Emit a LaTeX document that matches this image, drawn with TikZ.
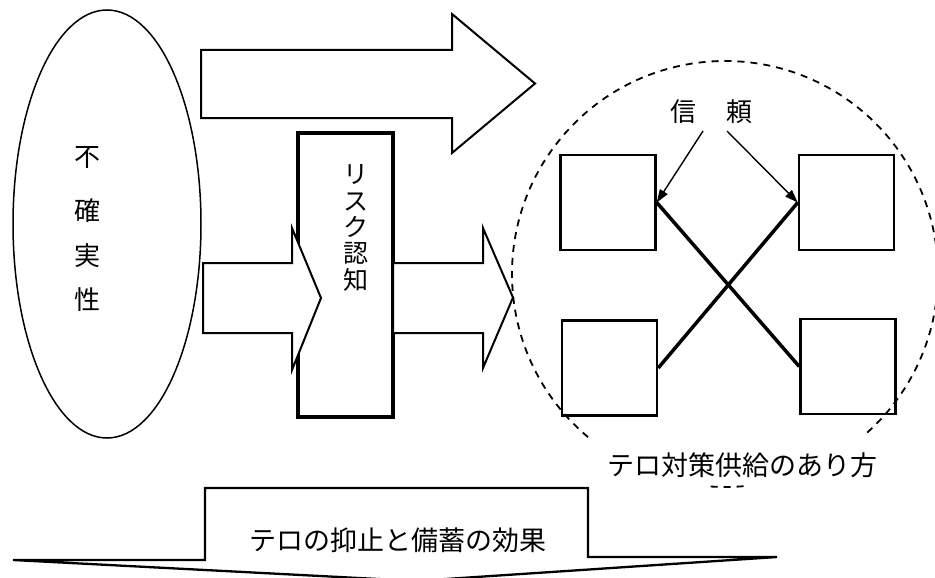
\documentclass[tikz,border=0pt]{standalone}
\usepackage{fontspec}
\newfontfamily\jp{Noto Sans CJK JP}
\usetikzlibrary{arrows.meta,shapes.geometric}
\begin{document}
\begin{tikzpicture}[x=1pt,y=-1pt,
  jt/.style={font=\jp\fontsize{26}{30}\selectfont, inner sep=0pt},
  fat/.style={draw, line width=2pt, fill=white, line join=miter},
  sq/.style={draw, line width=2.5pt, minimum width=95pt, minimum height=95pt, inner sep=0pt},
  cross/.style={line width=3.5pt},
  trust/.style={line width=1.4pt, -{Triangle[length=13pt,width=9pt]}},
  dcirc/.style={line width=1.8pt, dash pattern=on 7pt off 6pt}]
\useasboundingbox (0,0) rectangle (935,578);
\fill[white] (0,0) rectangle (935,578);

% uncertainty ellipse
\node[draw, ellipse, line width=1.5pt, minimum width=188pt, minimum height=428pt, inner sep=0pt] (unc) at (107,224) {};
\node[jt] (u1) at (87,158) {不};
\node[jt] (u2) at (87,211) {確};
\node[jt] (u3) at (87,256) {実};
\node[jt] (u4) at (87,300) {性};

% top arrow
\draw[fat] (201,50) -- (452,50) -- (452,14) -- (535,83.5) -- (452,153) -- (452,118) -- (201,118) -- cycle;

% risk perception box
\node[draw, line width=3.5pt, minimum width=95pt, minimum height=284pt, inner sep=0pt] (risk) at (345.5,275) {};
\node[font=\jp\fontsize{25}{26.3}\selectfont, align=center, inner sep=0pt] (rtext) at (356,228) {リ\\ス\\ク\\認\\知};

% middle arrows
\draw[fat] (203,263) -- (292,263) -- (292,228) -- (321,298) -- (292,370) -- (292,333) -- (203,333) -- cycle;
\draw[fat] (393,263) -- (483,263) -- (483,228) -- (513,297.5) -- (483,368) -- (483,333) -- (393,333) -- cycle;

% dashed circle
\coordinate (cc) at (725,274);
\draw[dcirc] ([shift={(130:213)}]cc) arc[start angle=130, end angle=409, radius=213];
\draw[dcirc] ([shift={(85:213)}]cc) arc[start angle=85, end angle=95, radius=213];

% squares
\node[sq] (tl) at (608,202.5) {};
\node[sq] (tr) at (846.5,202.5) {};
\node[sq] (bl) at (609.5,368) {};
\node[sq] (br) at (848,366.5) {};
\draw[cross] (tl.east) -- (br.west);
\draw[cross] (bl.east) -- (tr.west);

% trust
\node[jt] (trustlbl) at (711.5,112) {信\hspace{31pt}頼};
\coordinate (s1) at (703,131);
\coordinate (s2) at (727,131);
\draw[trust] (s1) -- (tl.east);
\draw[trust] (s2) -- (tr.west);

\node[font=\jp\fontsize{27}{30}\selectfont, inner sep=0pt] (supply) at (742,465) {テロ対策供給のあり方};

% bottom arrow
\draw[fat, line width=2.3pt] (13,560) -- (205,560) -- (205,488) -- (588,488) -- (588,557) -- (777,557) -- (416,581) -- cycle;
\node[font=\jp\fontsize{27}{30}\selectfont, inner sep=0pt] (effect) at (398,540) {テロの抑止と備蓄の効果};
\end{tikzpicture}
\end{document}
